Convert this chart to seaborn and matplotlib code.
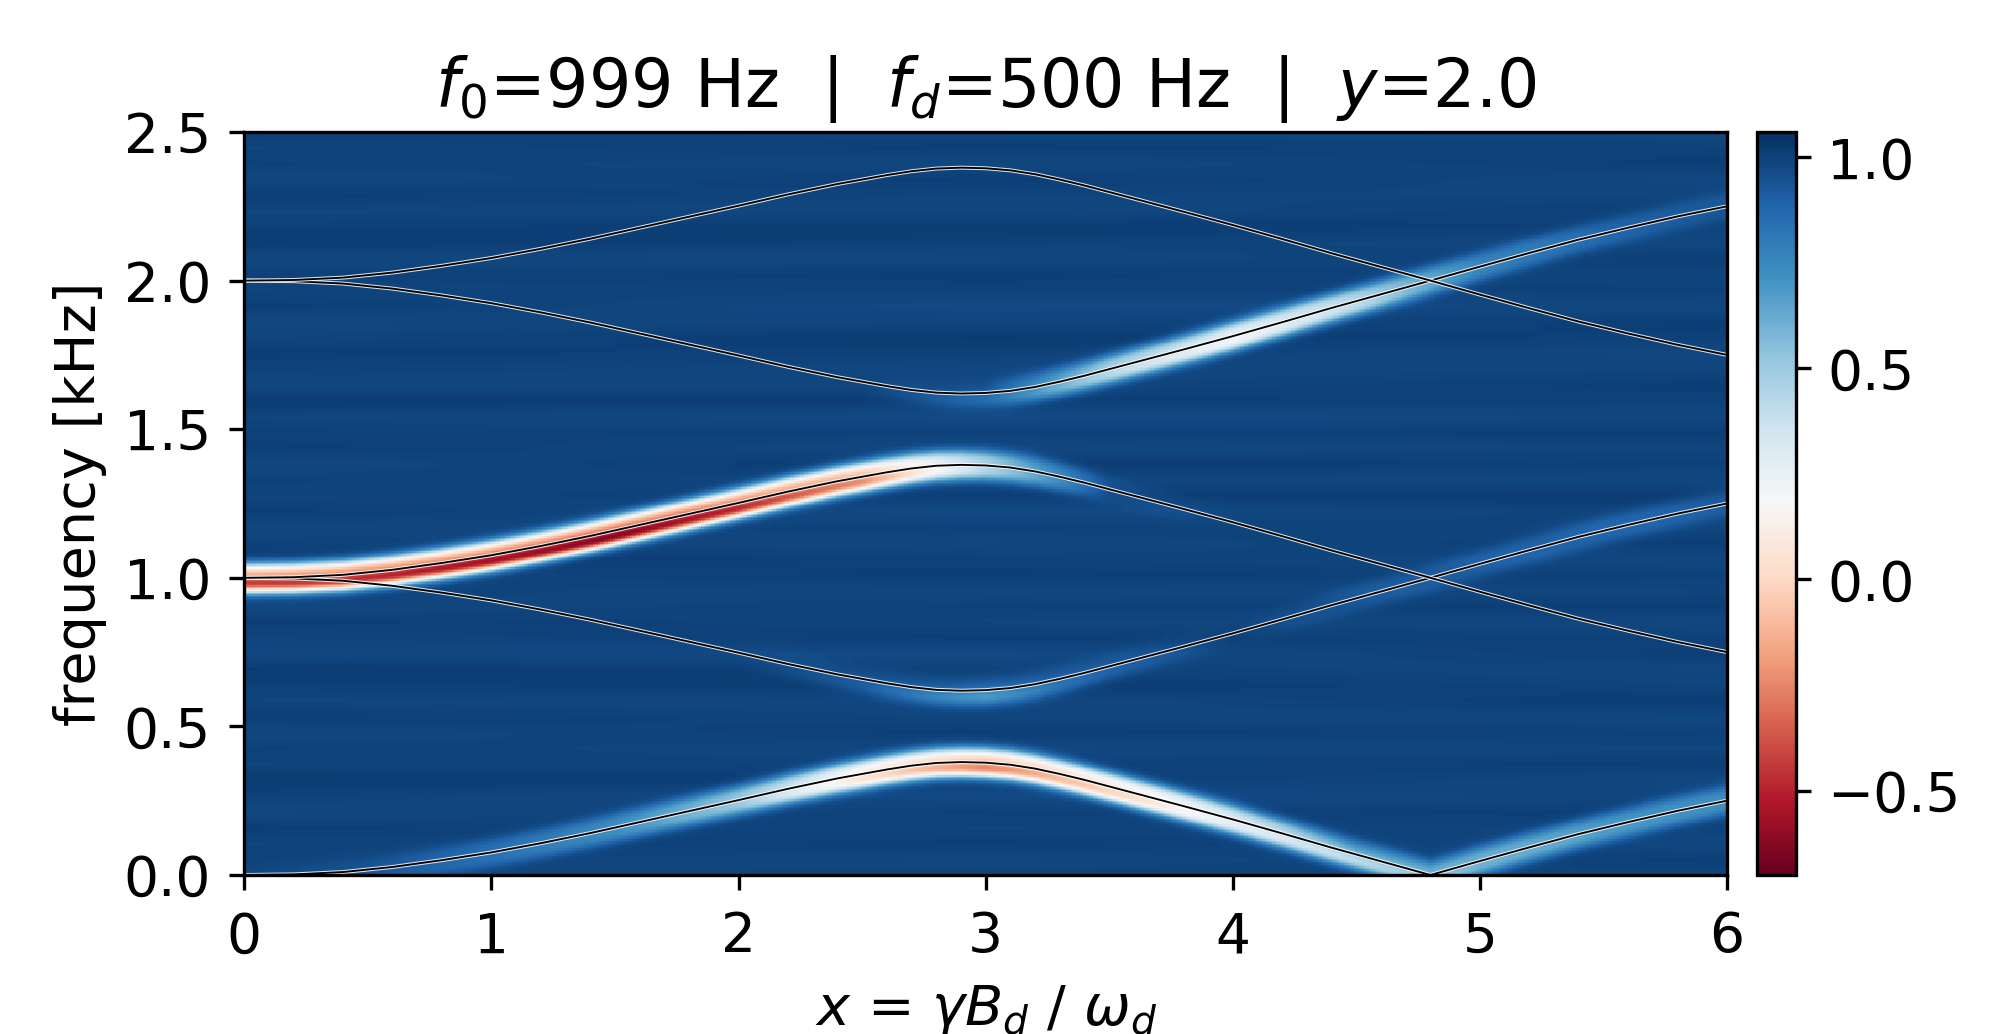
import numpy as np
import seaborn as sns
import matplotlib.pyplot as plt

# sample positions along the drive axis
x_vals = [0.0, 0.2, 0.4, 0.6, 0.8, 1.0, 1.2, 1.4, 1.6, 1.8, 2.0, 2.2, 2.4, 2.6, 2.7, 2.8, 2.9, 3.0, 3.1, 3.2, 3.3,
          3.4, 3.6, 3.8, 4.0, 4.2, 4.4, 4.6, 4.8, 5.0, 5.2, 5.4, 5.6, 5.8, 6.0]

# fitted lines (kHz)
line_a = [0.000, 0.002, 0.010, 0.027, 0.050, 0.076, 0.107, 0.141, 0.178, 0.215, 0.252, 0.290, 0.325, 0.355, 0.368, 0.377, 0.380, 0.378, 0.371, 0.358, 0.340,
          0.320, 0.276, 0.232, 0.187, 0.140, 0.092, 0.046, 0.000, 0.047, 0.093, 0.138, 0.178, 0.216, 0.250]
line_b = [1.000, 0.998, 0.990, 0.973, 0.950, 0.924, 0.893, 0.859, 0.822, 0.785, 0.748, 0.710, 0.675, 0.645, 0.632, 0.623, 0.620, 0.622, 0.629, 0.642, 0.660,
          0.680, 0.724, 0.768, 0.813, 0.860, 0.908, 0.954, 1.000, 1.047, 1.093, 1.138, 1.178, 1.216, 1.250]
line_c = [1.000, 1.002, 1.010, 1.027, 1.050, 1.076, 1.107, 1.141, 1.178, 1.215, 1.252, 1.290, 1.325, 1.355, 1.368, 1.377, 1.380, 1.378, 1.371, 1.358, 1.340,
          1.320, 1.276, 1.232, 1.187, 1.140, 1.092, 1.046, 1.000, 0.953, 0.907, 0.862, 0.822, 0.784, 0.750]
line_d = [2.000, 1.998, 1.990, 1.973, 1.950, 1.924, 1.893, 1.859, 1.822, 1.785, 1.748, 1.710, 1.675, 1.645, 1.632, 1.623, 1.620, 1.622, 1.629, 1.642, 1.660,
          1.680, 1.724, 1.768, 1.813, 1.860, 1.908, 1.954, 2.000, 2.047, 2.093, 2.138, 2.178, 2.216, 2.250]
line_e = [2.000, 2.002, 2.010, 2.027, 2.050, 2.076, 2.107, 2.141, 2.178, 2.215, 2.252, 2.290, 2.325, 2.355, 2.368, 2.377, 2.380, 2.378, 2.371, 2.358, 2.340,
          2.320, 2.276, 2.232, 2.187, 2.140, 2.092, 2.046, 2.000, 1.953, 1.907, 1.862, 1.822, 1.784, 1.750]

# how deep the dip is along each line, lower and upper lobe
depth_x = [0.0, 0.5, 1.0, 1.5, 2.0, 2.5, 3.0, 3.5, 4.0, 4.5, 5.0, 5.5, 6.0]
a_low = [0.0, 0.04, 0.14, 0.24, 0.42, 0.85, 1.15, 0.9, 0.65, 0.55, 0.35, 0.28, 0.24]
a_up = [0.0, 0.04, 0.12, 0.22, 0.38, 0.7, 0.8, 0.7, 0.55, 0.25, 0.32, 0.26, 0.22]
b_low = [0.0, 0.0, 0.0, 0.0, 0.0, 0.1, 0.3, 0.1, 0.0, 0.06, 0.08, 0.1, 0.08]
b_up = [0.0, 0.0, 0.0, 0.0, 0.0, 0.03, 0.08, 0.04, 0.0, 0.06, 0.08, 0.1, 0.08]
c_low = [1.3, 1.35, 1.45, 1.5, 1.35, 1.1, 0.5, 0.04, 0.0, 0.0, 0.0, 0.0, 0.0]
c_up = [0.85, 0.9, 0.9, 0.9, 0.9, 0.85, 0.45, 0.04, 0.0, 0.0, 0.0, 0.0, 0.0]
d_low = [0.0, 0.0, 0.0, 0.0, 0.0, 0.0, 0.15, 0.5, 0.72, 0.5, 0.2, 0.1, 0.06]
d_up = [0.0, 0.0, 0.0, 0.0, 0.0, 0.0, 0.03, 0.4, 0.6, 0.45, 0.2, 0.1, 0.06]

# background streaks, bottom row first, left / middle / right of the map
bg_left = [0.98, 1.00, 0.99, 1.01, 0.98, 1.00, 1.02, 0.99, 1.00, 0.98, 1.01, 0.99, 1.00, 1.02, 0.98, 0.99,
           1.01, 0.98, 1.00, 0.99, 1.02, 1.00, 0.98, 1.01, 0.99, 1.00, 0.98, 1.01, 1.00, 0.99, 1.02, 0.98,
           1.00, 1.01, 0.99, 0.98, 1.01, 0.99, 1.00, 0.98, 1.02, 1.00, 0.99, 1.01, 0.98, 1.00, 0.99, 1.01]
bg_mid = [1.00, 0.98, 1.01, 0.99, 1.00, 0.97, 1.01, 1.00, 0.98, 1.01, 0.99, 0.98, 1.02, 1.00, 0.97, 1.01,
          0.99, 1.00, 0.98, 1.01, 1.00, 0.98, 1.00, 0.97, 1.01, 0.99, 1.02, 0.98, 1.00, 0.97, 1.01, 0.99,
          0.98, 1.00, 1.02, 0.99, 0.97, 1.00, 1.01, 0.98, 1.00, 1.02, 0.98, 0.99, 1.01, 0.98, 1.01, 0.99]
bg_right = [0.99, 1.01, 0.98, 1.00, 1.01, 0.99, 0.98, 1.01, 0.99, 1.00, 0.98, 1.02, 0.99, 0.98, 1.01, 1.00,
            0.98, 1.01, 0.99, 1.00, 0.98, 1.01, 0.99, 1.00, 1.02, 0.98, 1.00, 0.99, 1.01, 0.98, 1.00, 1.01,
            0.99, 0.98, 1.00, 1.01, 0.98, 1.00, 0.99, 1.01, 0.98, 1.00, 1.01, 0.99, 0.98, 1.01, 1.00, 0.98]

x_ticks = [0, 1, 2, 3, 4, 5, 6]
y_ticks = [0.0, 0.5, 1.0, 1.5, 2.0, 2.5]
cbar_ticks = [-0.5, 0.0, 0.5, 1.0]

x_max = 6.0
f_max = 2.5
nx = 600
ny = 500

xs = (np.arange(nx) + 0.5) / nx * x_max
fs = (np.arange(ny) + 0.5) / ny * f_max

# background from the three streak columns
rows = np.linspace(0, f_max, len(bg_left))
left = np.interp(fs, rows, bg_left)
mid = np.interp(fs, rows, bg_mid)
right = np.interp(fs, rows, bg_right)
grid = np.zeros((ny, nx))
for i in range(ny):
    grid[i] = np.interp(xs, [0, 3, 6], [left[i], mid[i], right[i]])


def add_dip(line, low, up):
    centre = np.interp(xs, x_vals, line)
    low = np.interp(xs, depth_x, low)
    up = np.interp(xs, depth_x, up)
    for j in range(nx):
        grid[:, j] -= low[j] * np.exp(-(fs - centre[j] + 0.022) ** 2 / (2 * 0.021 ** 2))
        grid[:, j] -= up[j] * np.exp(-(fs - centre[j] - 0.022) ** 2 / (2 * 0.021 ** 2))


add_dip(line_a, a_low, a_up)
add_dip(line_b, b_low, b_up)
add_dip(line_c, c_low, c_up)
add_dip(line_d, d_low, d_up)

fig = plt.figure(figsize=(2003 / 300, 1034 / 300), dpi=300)
ax = fig.add_axes([244.3 / 2003, 1 - 875 / 1034, (1727 - 244.3) / 2003, (875 - 132) / 1034])
cax = fig.add_axes([1757 / 2003, 1 - 875 / 1034, 39 / 2003, (875 - 132) / 1034])

sns.heatmap(grid, ax=ax, cbar_ax=cax, cmap='RdBu', vmin=-0.7, vmax=1.06,
            xticklabels=False, yticklabels=False, cbar_kws={'ticks': cbar_ticks})
ax.invert_yaxis()

# lines go on the cell coordinates of the heatmap
x_cells = np.array(x_vals) / x_max * nx
for line in [line_a, line_b, line_c, line_d, line_e]:
    y_cells = np.array(line) / f_max * ny
    sns.lineplot(x=x_cells, y=y_cells, ax=ax, color='white', linewidth=0.95, alpha=0.85, sort=False, estimator=None)
    sns.lineplot(x=x_cells, y=y_cells, ax=ax, color='black', linewidth=0.45, sort=False, estimator=None)

ax.set_xlim(0, nx)
ax.set_ylim(0, ny)
ax.set_xticks(np.array(x_ticks) / x_max * nx)
ax.set_xticklabels([str(t) for t in x_ticks], rotation=0, fontsize=13.2)
ax.set_yticks(np.array(y_ticks) / f_max * ny)
ax.set_yticklabels([str(t) for t in y_ticks], rotation=0, fontsize=13.2)
ax.tick_params(axis='x', length=3.5, width=0.8, pad=5)
ax.tick_params(axis='y', length=3.5, width=0.8, pad=4.5)
for s in ax.spines.values():
    s.set_visible(True)
    s.set_linewidth(0.8)
ax.set_xlabel(r'$x$ = $\gamma B_d$ / $\omega_d$', fontsize=13.4, visible=True, labelpad=4.5)
ax.set_ylabel('frequency [kHz]', fontsize=13.4, visible=True)
ax.set_title(r'$f_0$=999 Hz  |  $f_d$=500 Hz  |  $y$=2.0', fontsize=16)

cb = ax.collections[0].colorbar
cb.outline.set_visible(True)
cb.outline.set_linewidth(0.8)
cb.outline.set_edgecolor('black')
cb.ax.tick_params(labelsize=13.2, length=3.5, width=0.8, pad=4)

plt.savefig('out.png', dpi=300)
